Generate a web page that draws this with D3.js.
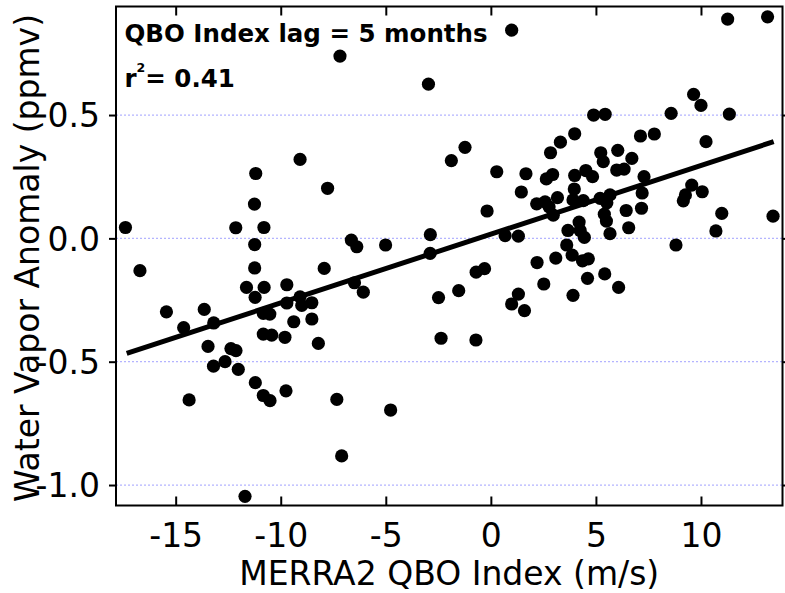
<!DOCTYPE html>
<html><head><meta charset="utf-8">
<script src="https://cdn.jsdelivr.net/npm/d3@7"></script>
<style>body{margin:0;background:#fff}</style>
</head><body>
<svg id="c" width="785" height="593"></svg>
<script>
// MERRA2 QBO index (m/s), lag 5 months
const qboIndex = [
-17.39,-16.70,-15.44,-14.62,-13.64,-13.19,-13.46,-13.20,-12.65,-12.37,-12.13,-12.02,-14.36,-11.70,
-12.14,-10.80,-11.19,-11.25,-11.24,-11.24,-11.63,-10.79,-11.22,-10.83,-10.52,-10.83,-10.43,-11.21,
-10.83,-10.51,-9.75,-9.71,-9.71,-9.08,-9.00,-8.52,-9.38,-8.52,-9.80,-8.21,-9.08,-7.77,-7.18,-7.93,
-6.64,-6.38,-5.01,-6.49,-6.07,-7.33,-7.10,-4.77,-2.97,-2.88,-2.89,-1.88,-1.23,-2.49,-1.53,-2.37,
-0.71,-0.70,-0.30,-0.18,0.28,0.99,0.68,1.31,1.31,0.99,1.60,1.45,1.67,2.20,2.52,2.64,2.94,2.18,2.58,
2.77,2.97,3.17,3.09,2.84,3.31,3.61,3.87,3.67,4.20,4.25,4.45,4.36,4.64,3.91,4.60,5.42,6.08,3.97,3.91,
4.40,3.99,4.52,4.84,3.99,4.89,5.44,5.23,5.35,6.04,5.99,6.34,6.71,7.29,5.20,5.67,5.52,5.40,5.50,6.44,
6.56,5.67,7.20,7.17,7.12,7.78,8.58,9.65,10.00,11.35,11.27,13.17,10.24,9.56,10.06,9.16,9.26,10.99,
10.71,13.43,8.81];
// water vapor anomaly (ppmv)
const wvAnomaly = [
0.044,-0.131,-0.298,-0.362,-0.288,-0.343,-0.438,-0.518,-0.500,-0.447,-0.455,-0.531,-0.655,-1.046,
0.043,0.044,0.263,0.139,-0.025,-0.120,-0.199,-0.199,-0.239,-0.304,-0.307,-0.388,-0.392,-0.585,
-0.637,-0.658,-0.618,-0.188,-0.262,-0.237,-0.272,-0.261,-0.338,-0.327,-0.401,-0.426,0.320,0.203,0.739,-0.122,
-0.007,-0.034,-0.027,-0.180,-0.218,-0.653,-0.882,-0.696,0.625,0.015,-0.061,0.315,0.369,-0.240,-0.212,-0.405,
-0.412,-0.137,-0.123,0.111,0.270,0.844,0.011,0.009,-0.226,-0.266,-0.293,0.188,0.262,-0.098,-0.185,0.241,0.259,0.140,0.148,
0.128,0.094,0.165,-0.080,0.347,0.390,-0.027,-0.068,0.032,0.066,0.032,0.004,-0.091,-0.083,-0.231,-0.162,-0.144,-0.199,0.200,0.156,
0.153,0.255,0.275,0.250,0.424,0.500,0.503,0.347,0.311,0.357,0.277,0.281,0.324,0.250,0.162,0.176,0.144,0.098,0.070,0.113,
0.043,0.019,0.184,0.122,0.415,0.423,0.507,0.584,0.539,0.504,0.889,0.898,0.392,0.216,0.189,0.152,0.176,0.101,
0.030,0.090,-0.027];
// linear fit endpoints
const fitX = [-17.33, 13.46];
const fitY = [-0.466, 0.392];
const xTicks = [-15, -10, -5, 0, 5, 10];
const yTicks = [0.5, 0.0, -0.5, -1.0];
const xTitle = "MERRA2 QBO Index (m/s)";
const yTitle = "Water Vapor Anomaly (ppmv)";
const lagText = "QBO Index lag = 5 months";
const r2Value = "0.41";

const svg = d3.select("#c");
const L = 116, T = 6.5, R = 782.5, B = 505.5;
const x = d3.scaleLinear().domain([-17.84, 13.88]).range([L, R]);
const y = d3.scaleLinear().domain([0.940, -1.083]).range([T, B]);
const font = "'DejaVu Sans', Verdana, sans-serif";

// grid
svg.append("g").selectAll("line").data(yTicks).join("line")
  .attr("x1", L).attr("x2", R).attr("y1", d => y(d)).attr("y2", d => y(d))
  .attr("stroke", "#b4b4ff").attr("stroke-width", 1.2).attr("stroke-dasharray", "2,2");

// points
svg.append("g").selectAll("circle").data(qboIndex.map((v, i) => [v, wvAnomaly[i]])).join("circle")
  .attr("cx", d => x(d[0])).attr("cy", d => y(d[1])).attr("r", 6.6).attr("fill", "#000");

// fit line
svg.append("line").attr("x1", x(fitX[0])).attr("y1", y(fitY[0]))
  .attr("x2", x(fitX[1])).attr("y2", y(fitY[1]))
  .attr("stroke", "#000").attr("stroke-width", 5);

// axes
const gBottom = svg.append("g").attr("transform", `translate(0,${B})`)
  .call(d3.axisBottom(x).tickValues(xTicks).tickSize(-9).tickFormat(d => String(d)));
const gTop = svg.append("g").attr("transform", `translate(0,${T})`)
  .call(d3.axisTop(x).tickValues(xTicks).tickSize(-9).tickFormat(""));
const gLeft = svg.append("g").attr("transform", `translate(${L},0)`)
  .call(d3.axisLeft(y).tickValues(yTicks).tickSize(7).tickFormat(d => d.toFixed(1)));
const gRight = svg.append("g").attr("transform", `translate(${R},0)`)
  .call(d3.axisRight(y).tickValues(yTicks).tickSize(7).tickFormat(""));
[gBottom, gTop, gLeft, gRight].forEach(g => {
  g.select(".domain").remove();
  g.selectAll(".tick line").attr("stroke", "#000").attr("stroke-width", 2);
  g.selectAll("text").attr("font-family", font).attr("font-size", 33).attr("fill", "#000");
});
gBottom.selectAll(".tick text").attr("y", 41).attr("dy", null);
gLeft.selectAll(".tick text").attr("x", -16).attr("dy", "0.36em");

svg.append("rect").attr("x", L).attr("y", T).attr("width", R - L).attr("height", B - T)
  .attr("fill", "none").attr("stroke", "#000").attr("stroke-width", 2);

// titles
svg.append("text").attr("x", (L + R) / 2).attr("y", 585).attr("text-anchor", "middle")
  .attr("font-family", font).attr("font-size", 33).text(xTitle);
svg.append("text").attr("transform", `translate(39,258) rotate(-90)`).attr("text-anchor", "middle")
  .attr("font-family", font).attr("font-size", 33).text(yTitle);

// annotations
svg.append("text").attr("x", 124.5).attr("y", 41.5).attr("font-family", font).attr("font-weight", "bold")
  .attr("font-size", 24.5).text(lagText);
const r2 = svg.append("text").attr("x", 124.5).attr("y", 86.5).attr("font-family", font).attr("font-weight", "bold")
  .attr("font-size", 24.5);
r2.append("tspan").text("r");
r2.append("tspan").attr("font-size", 12.5).attr("dy", -15).text("2");
r2.append("tspan").attr("dy", 15).text("= " + r2Value);
</script>
</body></html>
